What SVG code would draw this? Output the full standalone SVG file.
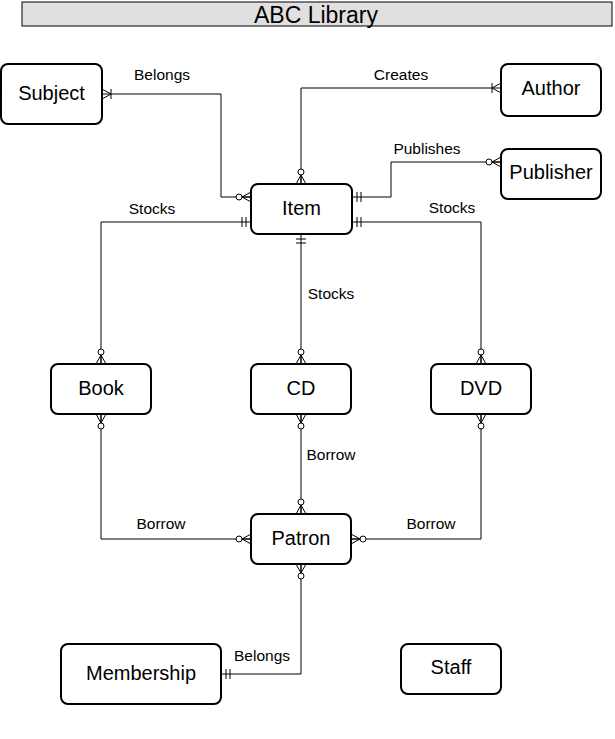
<svg xmlns="http://www.w3.org/2000/svg" width="615" height="739" viewBox="0 0 615 739">
<style>
.node rect{fill:#fff;stroke:#000;stroke-width:2}
.node text{font-family:"Liberation Sans",Arial,sans-serif;font-size:20px;text-anchor:middle;dominant-baseline:central;fill:#000}
.edge{fill:none;stroke:#000;stroke-width:1}
.lbl{font-family:"Liberation Sans",Arial,sans-serif;font-size:15.5px;text-anchor:middle;fill:#000}
.mk{fill:none;stroke:#000;stroke-width:1}
</style>
<defs>
<marker id="zeroMany" markerUnits="userSpaceOnUse" orient="auto-start-reverse" refX="0" refY="0" markerWidth="20" markerHeight="20" overflow="visible">
<path class="mk" d="M-9,0 L0,-5 M-9,0 L0,5 M-9,0 L0,0"/>
<circle cx="-12" cy="0" r="3" fill="#fff" stroke="#000" stroke-width="1"/>
</marker>
<marker id="oneMany" markerUnits="userSpaceOnUse" orient="auto-start-reverse" refX="0" refY="0" markerWidth="20" markerHeight="20" overflow="visible">
<path class="mk" d="M-9,0 L0,-5 M-9,0 L0,5 M-9,-5 L-9,5"/>
</marker>
<marker id="mandOne" markerUnits="userSpaceOnUse" orient="auto-start-reverse" refX="0" refY="0" markerWidth="20" markerHeight="20" overflow="visible">
<path class="mk" d="M-5,-5 L-5,5 M-9,-5 L-9,5"/>
</marker>
</defs>
<rect width="615" height="739" fill="#fff"/>
<g id="title">
<rect x="22" y="2" width="590" height="24" fill="#e0e0e0" stroke="#000" stroke-width="1"/>
<text x="316" y="23" font-family="Liberation Sans,Arial,sans-serif" font-size="23" text-anchor="middle">ABC Library</text>
</g>
<g id="connectors">
<path class="edge" d="M102,94 L221,94 L221,197 L251,197" marker-start="url(#oneMany)" marker-end="url(#zeroMany)"/>
<path class="edge" d="M301,184 L301,88 L501,88" marker-start="url(#zeroMany)" marker-end="url(#oneMany)"/>
<path class="edge" d="M352,197 L391,197 L391,162 L501,162" marker-start="url(#mandOne)" marker-end="url(#zeroMany)"/>
<path class="edge" d="M251,222 L101,222 L101,364" marker-start="url(#mandOne)" marker-end="url(#zeroMany)"/>
<path class="edge" d="M301,234 L301,364" marker-start="url(#mandOne)" marker-end="url(#zeroMany)"/>
<path class="edge" d="M352,222 L481,222 L481,364" marker-start="url(#mandOne)" marker-end="url(#zeroMany)"/>
<path class="edge" d="M101,414 L101,539 L251,539" marker-start="url(#zeroMany)" marker-end="url(#zeroMany)"/>
<path class="edge" d="M301,414 L301,514" marker-start="url(#zeroMany)" marker-end="url(#zeroMany)"/>
<path class="edge" d="M481,414 L481,539 L351,539" marker-start="url(#zeroMany)" marker-end="url(#zeroMany)"/>
<path class="edge" d="M301,564 L301,674 L221,674" marker-start="url(#zeroMany)" marker-end="url(#mandOne)"/>
<text class="lbl" x="162" y="80">Belongs</text>
<text class="lbl" x="401" y="80">Creates</text>
<text class="lbl" x="427" y="154">Publishes</text>
<text class="lbl" x="152" y="214">Stocks</text>
<text class="lbl" x="452" y="213">Stocks</text>
<text class="lbl" x="331" y="299">Stocks</text>
<text class="lbl" x="331" y="460">Borrow</text>
<text class="lbl" x="161" y="529">Borrow</text>
<text class="lbl" x="431" y="529">Borrow</text>
<text class="lbl" x="262" y="661">Belongs</text>
</g>
<g id="subject" class="node"><rect x="1" y="64" width="101" height="60" rx="7"/><text x="51.5" y="93">Subject</text></g>
<g id="author" class="node"><rect x="501" y="64" width="100" height="52" rx="7"/><text x="551" y="88">Author</text></g>
<g id="publisher" class="node"><rect x="501" y="149" width="100" height="50" rx="7"/><text x="551" y="172">Publisher</text></g>
<g id="item" class="node"><rect x="251" y="184" width="101" height="50" rx="7"/><text x="301.5" y="208">Item</text></g>
<g id="book" class="node"><rect x="51" y="364" width="100" height="50" rx="7"/><text x="101" y="388">Book</text></g>
<g id="cd" class="node"><rect x="251" y="364" width="100" height="50" rx="7"/><text x="301" y="388">CD</text></g>
<g id="dvd" class="node"><rect x="431" y="364" width="100" height="50" rx="7"/><text x="481" y="388">DVD</text></g>
<g id="patron" class="node"><rect x="251" y="514" width="100" height="50" rx="7"/><text x="301" y="538">Patron</text></g>
<g id="membership" class="node"><rect x="61" y="644" width="160" height="60" rx="7"/><text x="141" y="673">Membership</text></g>
<g id="staff" class="node"><rect x="401" y="644" width="100" height="50" rx="7"/><text x="451" y="667">Staff</text></g>
</svg>
